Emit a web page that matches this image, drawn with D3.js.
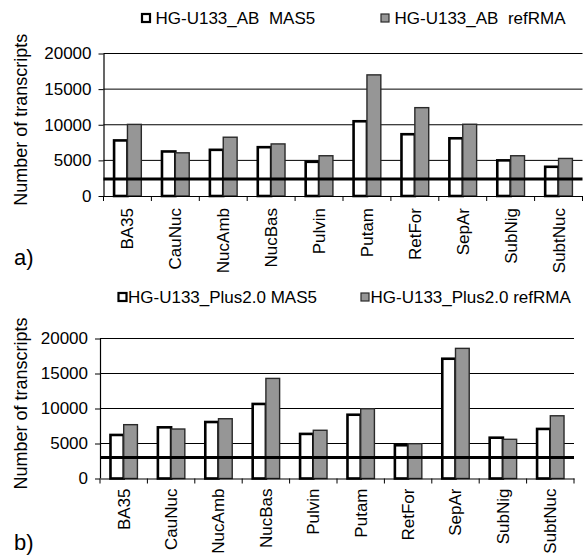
<!DOCTYPE html>
<html>
<head>
<meta charset="utf-8">
<script src="https://cdn.jsdelivr.net/npm/d3@7"></script>
<style>
  body { margin: 0; background: #fff; }
  svg { display: block; }
  text { font-family: "Liberation Sans", Arial, sans-serif; fill: #000; }
</style>
</head>
<body>
<svg id="chart" width="583" height="557"></svg>
<script>
const categories = ["BA35", "CauNuc", "NucAmb", "NucBas", "Pulvin", "Putam", "RetFor", "SepAr", "SubNig", "SubtNuc"];

const abSeries = ["HG-U133_AB  MAS5", "HG-U133_AB  refRMA"];
const abMAS5   = [7800, 6250, 6480, 6850, 4800, 10490, 8670, 8100, 5000, 4100];
const abRefRMA = [10050, 6060, 8250, 7310, 5650, 17000, 12400, 10070, 5650, 5270];
const abThreshold = 2400;

const plusSeries = ["HG-U133_Plus2.0 MAS5", "HG-U133_Plus2.0 refRMA"];
const plusMAS5   = [6220, 7310, 8070, 10650, 6370, 9110, 4750, 17110, 5830, 7080];
const plusRefRMA = [7690, 7070, 8540, 14300, 6890, 9970, 4970, 18590, 5600, 8960];
const plusThreshold = 3000;

const yTicks = [0, 5000, 10000, 15000, 20000];
const yTitle = "Number of transcripts";
const panelLabels = ["a)", "b)"];

const svg = d3.select("#chart");
const FONT = 17;
const FF = "'Liberation Sans', Arial, sans-serif";

function drawPanel(cfg) {
  const g = svg.append("g");
  const x = d3.scaleBand().domain(categories).range([cfg.left, cfg.right]).paddingInner(0).paddingOuter(0);
  const y = d3.scaleLinear().domain([0, 20000]).range([cfg.bottom, cfg.top]);
  const bw = x.bandwidth();
  const xs = d3.scaleBand().domain([0, 1]).range([bw * 0.2, bw * 0.8]).padding(0);

  // gridlines
  g.append("g").selectAll("line").data(yTicks.filter(t => t > 0)).join("line")
    .attr("x1", cfg.left).attr("x2", cfg.right)
    .attr("y1", d => y(d)).attr("y2", d => y(d))
    .attr("stroke", "#000").attr("stroke-width", 1);

  // y axis
  const yAxis = g.append("g").attr("transform", `translate(${cfg.left},0)`)
    .call(d3.axisLeft(y).tickValues(yTicks).tickSize(5).tickPadding(7).tickFormat(d3.format("d")));
  yAxis.select(".domain").attr("stroke", "#000").attr("stroke-width", 1.2).attr("d", `M0.5,${cfg.top}V${cfg.bottom}`);
  yAxis.selectAll(".tick line").attr("stroke", "#000");
  yAxis.selectAll(".tick text").attr("font-size", FONT).attr("font-family", FF).attr("fill", "#000");

  // bars
  const data = categories.map((c, i) => ({ c, v: [cfg.s1[i], cfg.s2[i]] }));
  const grp = g.append("g").selectAll("g").data(data).join("g")
    .attr("transform", d => `translate(${x(d.c)},0)`);
  grp.append("rect")
    .attr("x", xs(0) + 1).attr("width", xs.bandwidth() - 1)
    .attr("y", d => y(d.v[0])).attr("height", d => y(0) - y(d.v[0]))
    .attr("fill", "#fff").attr("stroke", "#000").attr("stroke-width", 2.6);
  grp.append("rect")
    .attr("x", xs(1)).attr("width", xs.bandwidth() - 0.5)
    .attr("y", d => y(d.v[1])).attr("height", d => y(0) - y(d.v[1]))
    .attr("fill", "#969696").attr("stroke", "#2a2a2a").attr("stroke-width", 1.4);

  // x axis
  const xAxis = g.append("g").attr("transform", `translate(0,${cfg.bottom})`)
    .call(d3.axisBottom(x).tickSize(0).tickPadding(0));
  xAxis.select(".domain").attr("stroke", "#000").attr("stroke-width", 1.2);
  xAxis.selectAll(".tick text")
    .attr("font-size", FONT).attr("font-family", FF).attr("fill", "#000")
    .attr("text-anchor", "end")
    .attr("transform", "rotate(-90)")
    .attr("x", -cfg.labelGap).attr("y", 0).attr("dy", "0.35em");
  // boundary tick marks
  const bounds = categories.map(c => x(c)).concat([cfg.right]);
  xAxis.append("g").selectAll("line").data(bounds).join("line")
    .attr("x1", d => d).attr("x2", d => d).attr("y1", 0).attr("y2", 5)
    .attr("stroke", "#000").attr("stroke-width", 1);

  // threshold line
  g.append("line")
    .attr("x1", cfg.left).attr("x2", cfg.right)
    .attr("y1", y(cfg.threshold)).attr("y2", y(cfg.threshold))
    .attr("stroke", "#000").attr("stroke-width", 3);

  // y title
  g.append("text")
    .attr("transform", `translate(${cfg.titleX},${(cfg.top + cfg.bottom) / 2 - 5}) rotate(-90)`)
    .attr("text-anchor", "middle").attr("font-size", 18)
    .text(yTitle);

  // legend
  const leg = g.append("g");
  cfg.series.forEach((s, i) => {
    const lx = cfg.legendX[i];
    leg.append("rect")
      .attr("x", lx).attr("y", cfg.legendY - 10).attr("width", 8).attr("height", 8)
      .attr("fill", i === 0 ? "#fff" : "#969696")
      .attr("stroke", i === 0 ? "#000" : "#2a2a2a")
      .attr("stroke-width", i === 0 ? 2.2 : 1.2);
    leg.append("text")
      .attr("x", lx + cfg.legendTextOff).attr("y", cfg.legendY)
      .attr("font-size", FONT)
      .style("white-space", "pre")
      .text(s);
  });

  // panel label
  g.append("text").attr("x", 14).attr("y", cfg.panelY).attr("font-size", 22).text(cfg.panel);
}

drawPanel({
  left: 103.5, right: 582.5, top: 53.5, bottom: 196,
  s1: abMAS5, s2: abRefRMA, threshold: abThreshold,
  series: abSeries, legendX: [142, 381], legendTextOff: 13.5, legendY: 24,
  titleX: 27, labelGap: 12, panel: panelLabels[0], panelY: 265
});

drawPanel({
  left: 100, right: 574, top: 338.5, bottom: 478.5,
  s1: plusMAS5, s2: plusRefRMA, threshold: plusThreshold,
  series: plusSeries, legendX: [118.5, 361], legendTextOff: 9.5, legendY: 303,
  titleX: 27, labelGap: 10, panel: panelLabels[1], panelY: 550
});
</script>
</body>
</html>
